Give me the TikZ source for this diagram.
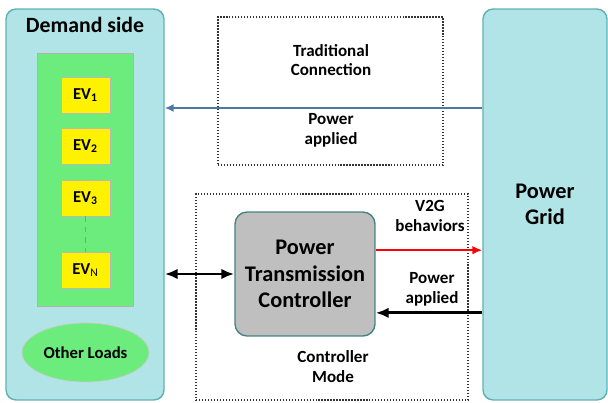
\documentclass[tikz,border=0pt]{standalone}
\usepackage{fontspec}
\setmainfont{Carlito}
\usetikzlibrary{calc,shapes.geometric,arrows.meta}

\definecolor{sidecyan}{RGB}{176,228,230}
\definecolor{sideedge}{RGB}{98,176,178}
\definecolor{evgreen}{RGB}{108,236,124}
\definecolor{ptcgray}{RGB}{191,191,191}
\definecolor{ptcedge}{RGB}{70,130,130}
\definecolor{lineblue}{RGB}{78,120,164}

\tikzset{
	sidebox/.style={draw=sideedge, fill=sidecyan, rounded corners=0.2cm, line width=0.8pt, inner sep=0pt},
	evbox/.style={draw=gray!55, fill=yellow, minimum width=0.98cm, minimum height=0.72cm, inner sep=0pt,
		font=\bfseries\fontsize{9.5}{10}\selectfont},
	modebox/.style={draw=black!80, densely dotted, line width=0.7pt, inner sep=0pt},
	lbl/.style={align=center, font=\bfseries\fontsize{9.7}{11.3}\selectfont},
	biglbl/.style={align=center, font=\bfseries\fontsize{12.7}{15}\selectfont},
	heavy/.style={line width=1.6pt}
}

\begin{document}
\begin{tikzpicture}[x=0.02cm, y=-0.02cm]
		\useasboundingbox (0, 0) rectangle (608, 402);
		
		% the two sides
		\node[sidebox, minimum width=3.16cm, minimum height=7.82cm] (demand) at (85, 204.5) {};
		\node[sidebox, minimum width=2.48cm, minimum height=7.82cm, biglbl] (grid) at (545, 204.5) {Power\\Grid};
		\node[font=\bfseries\fontsize{12.4}{14}\selectfont] (demandtitle) at (85, 25) {Demand side};
		
		% EVs
		\node[draw=gray!60, fill=evgreen, minimum width=1.92cm, minimum height=5.06cm, inner sep=0pt] (evs) at (85, 179.5) {};
		\node[evbox] (ev1) at (85.5, 95) {EV$_{\mathbf{1}}$};
		\node[evbox] (ev2) at (85.5, 146) {EV$_{\mathbf{2}}$};
		\node[evbox] (ev3) at (85.5, 198) {EV$_{\mathbf{3}}$};
		\node[evbox] (evn) at (85.5, 270.5) {EV$_{\mathrm{N}}$};
		\draw[lineblue!75, dashed, line width=0.7pt] (ev3) -- (evn);
		
		\node[ellipse, draw=gray!40, fill=evgreen, minimum width=2.54cm, minimum height=1.18cm, inner sep=0pt,
			font=\bfseries\fontsize{9.5}{11}\selectfont] (loads) at (85.5, 352.5) {Other Loads};
		
		% modes
		\node[modebox, minimum width=4.5cm, minimum height=2.96cm] (trad) at (330.5, 91) {};
		\node[lbl] (tradlbl) at (331, 60) {Traditional\\Connection};
		\node[lbl] (tradpower) at (331, 130) {Power\\applied};
		
		\node[modebox, minimum width=5.44cm, minimum height=4.12cm] (ctrl) at (332, 297) {};
		\node[draw=ptcedge, fill=ptcgray, rounded corners=0.24cm, line width=0.8pt, minimum width=2.8cm,
			minimum height=2.48cm, biglbl] (ptc) at (305, 274) {Power\\Transmission\\Controller};
		\node[lbl] (ctrllbl) at (333, 367) {Controller\\Mode};
		\node[lbl] (v2glbl) at (430, 216) {V2G\\behaviors};
		\node[lbl] (ctrlpower) at (432, 289) {Power\\applied};
		
		% connectors
		\coordinate (tradline) at (0, 108);
		\coordinate (v2gline) at ($(ptc.north east)!0.31!(ptc.south east)$);
		\coordinate (backline) at ($(ptc.north east)!0.81!(ptc.south east)$);
		\draw[lineblue, line width=1pt, -{Latex[length=0.18cm, width=0.16cm]}] (grid.west |- tradline) -- (demand.east |- tradline);
		\draw[heavy, {Latex[length=0.26cm, width=0.21cm]}-{Latex[length=0.26cm, width=0.21cm]}] (demand.east |- ptc) -- (ptc.west);
		\draw[red, line width=1pt, -{Latex[length=0.2cm, width=0.17cm]}] (v2gline) -- (grid.west |- v2gline);
		\draw[heavy, -{Latex[length=0.26cm, width=0.21cm]}] (grid.west |- backline) -- (backline);
	\end{tikzpicture}
\end{document}
